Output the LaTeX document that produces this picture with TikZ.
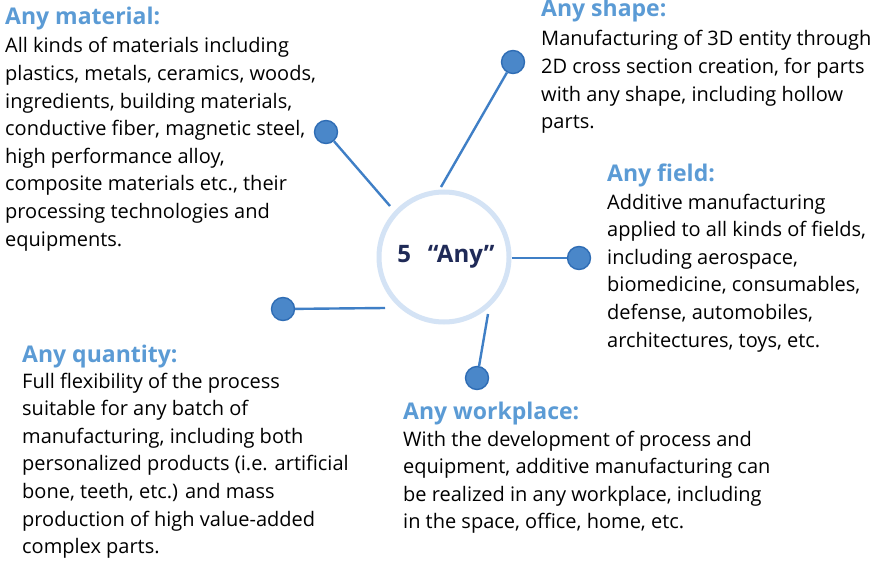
\documentclass[tikz,border=0pt]{standalone}
\usepackage{fontspec}
\setmainfont{Open Sans}
\begin{document}
\definecolor{titleblue}{HTML}{5B9BD5}
\definecolor{dotfill}{HTML}{4A87C9}
\definecolor{dotedge}{HTML}{2F6DB5}
\definecolor{spoke}{HTML}{3F7FC6}
\definecolor{ring}{HTML}{D4E3F5}
\definecolor{navy}{HTML}{1F2A57}
\begin{tikzpicture}[x=1pt,y=-1pt,
  hub/.style={circle,draw=ring,line width=5pt,fill=white,minimum size=130pt,inner sep=0pt,
    font=\fontsize{24}{28}\selectfont\bfseries,text=navy},
  dot/.style={circle,draw=dotedge,line width=1.4pt,fill=dotfill,minimum size=23pt,inner sep=0pt},
  link/.style={draw=spoke,line width=2.4pt},
  head/.style={anchor=base west,inner sep=0pt,text=titleblue,font=\fontsize{23}{27}\selectfont\bfseries},
  % body blocks are placed by the baseline of their last line
  body/.style={anchor=base west,inner sep=0pt,align=left,text=black,font=\fontsize{20}{27.6}\selectfont}]
\useasboundingbox[fill=white] (0,0) rectangle (882,561);

% central hub
\node[hub] (hub) at (444,257) {\hspace{4pt}5\hspace{0.7em}“Any”};

% satellite dots
\node[dot] (dmat) at (326,132) {};
\node[dot] (dshape) at (513,62) {};
\node[dot] (dfield) at (579,258) {};
\node[dot] (dqty) at (283,309) {};
\node[dot] (dwork) at (477,378) {};

% spoke ends on the hub rim
\coordinate (emat) at (390,206);
\coordinate (eshape) at (441,187);
\coordinate (efield) at (512,258);
\coordinate (eqty) at (385,308);
\coordinate (ework) at (488,314);

\draw[link] (emat) -- (dmat);
\draw[link] (eshape) -- (dshape);
\draw[link] (efield) -- (dfield);
\draw[link] (eqty) -- (dqty);
\draw[link] (ework) -- (dwork);

% Any material
\node[head] (hmat) at (5,25) {Any material:};
\node[body] (tmat) at (5,246.2) {All kinds of materials including\\plastics, metals, ceramics, woods,\\ingredients, building materials,\\conductive fiber, magnetic steel,\\high performance alloy,\\composite materials etc., their\\processing technologies and\\equipments.};

% Any shape
\node[head] (hshape) at (541,17) {Any shape:};
\node[body] (tshape) at (541,128.8) {Manufacturing of 3D entity through\\2D cross section creation, for parts\\with any shape, including hollow\\parts.};

% Any field
\node[head] (hfield) at (607,182) {Any field:};
\node[body] (tfield) at (607,347) {Additive manufacturing\\applied to all kinds of fields,\\including aerospace,\\biomedicine, consumables,\\defense, automobiles,\\architectures, toys, etc.};

% Any quantity
\node[head] (hqty) at (22,362) {Any quantity:};
\node[body] (tqty) at (22,553.6) {Full flexibility of the process\\suitable for any batch of\\manufacturing, including both\\personalized products (i.e. artificial\\bone, teeth, etc.) and mass\\production of high value-added\\complex parts.};

% Any workplace
\node[head] (hwork) at (403,419) {Any workplace:};
\node[body] (twork) at (403,528.8) {With the development of process and\\equipment, additive manufacturing can\\be realized in any workplace, including\\in the space, office, home, etc.};
\end{tikzpicture}
\end{document}
